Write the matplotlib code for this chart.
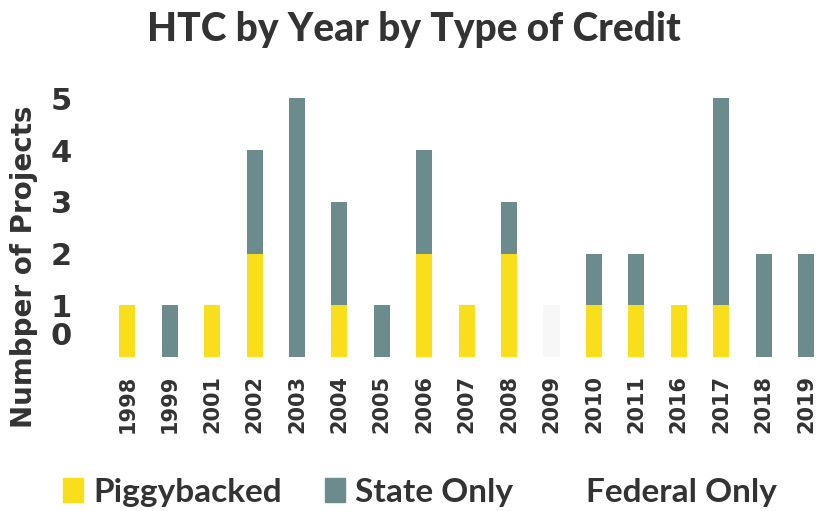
import matplotlib
matplotlib.use('Agg')
import matplotlib.pyplot as plt
import numpy as np
from matplotlib.patches import Patch

years = ['1998', '1999', '2001', '2002', '2003', '2004', '2005', '2006', '2007',
         '2008', '2009', '2010', '2011', '2016', '2017', '2018', '2019']
piggybacked = [1, 0, 1, 2, 0, 1, 0, 2, 1, 2, 0, 1, 1, 1, 1, 0, 0]
state_only = [0, 1, 0, 2, 5, 2, 1, 2, 0, 1, 0, 1, 1, 0, 4, 2, 2]
federal_only = [0, 0, 0, 0, 0, 0, 0, 0, 0, 0, 1, 0, 0, 0, 0, 0, 0]
series_names = ['Piggybacked', 'State Only', 'Federal Only']

YELLOW = '#f8de1b'
GREY = '#6c8b8c'
FED = '#f7f7f7'
TXT = '#333333'

plt.rcParams['font.family'] = ['DejaVu Sans']

fig = plt.figure(figsize=(8.19, 5.11), dpi=100)
ax = fig.add_axes([0.127, 0.2963, 0.8727, 0.516])

x = np.arange(len(years))
w = 0.38
pig = np.array(piggybacked)
st = np.array(state_only)
fed = np.array(federal_only)
ax.bar(x, pig, w, color=YELLOW)
ax.bar(x, st, w, bottom=pig, color=GREY)
ax.bar(x, fed, w, bottom=pig + st, color=FED)

ax.set_xlim(-0.55, 16.3)
ax.set_ylim(-0.05, 5.05)
# the "0" label sits a little above the baseline in the original
ax.set_yticks([0.45, 1, 2, 3, 4, 5], labels=['0', '1', '2', '3', '4', '5'])
ax.set_xticks(x)
ax.set_xticklabels(years, rotation=90, fontsize=15, fontweight='bold', color=TXT)
for t in ax.get_yticklabels():
    t.set_fontsize(22)
    t.set_fontweight('bold')
    t.set_color(TXT)
ax.tick_params(length=0)
ax.tick_params(axis='x', pad=11)
ax.tick_params(axis='y', pad=23)
for s in ax.spines.values():
    s.set_visible(False)

ax.set_ylabel('Numbper of Projects', fontsize=20, fontweight='bold', color=TXT)
ax.yaxis.set_label_coords(-0.092, 0.351)

fig.text(0.5053, 1 - 29 / 511, 'HTC by Year by Type of Credit', ha='center', va='center',
         fontsize=28, fontweight='black', color=TXT, family=['Lato', 'DejaVu Sans'])

handles = [Patch(color=YELLOW), Patch(color=GREY), Patch(color='white')]
fig.legend(handles, series_names, loc='center',
           bbox_to_anchor=(0.513, 0.037), ncol=3, frameon=False,
           prop={'family': ['Lato', 'DejaVu Sans'], 'size': 24, 'weight': 'bold'},
           handlelength=0.6, handleheight=0.75, handletextpad=0.3, columnspacing=1.3,
           labelcolor=TXT)

fig.savefig('out.png', dpi=100)
